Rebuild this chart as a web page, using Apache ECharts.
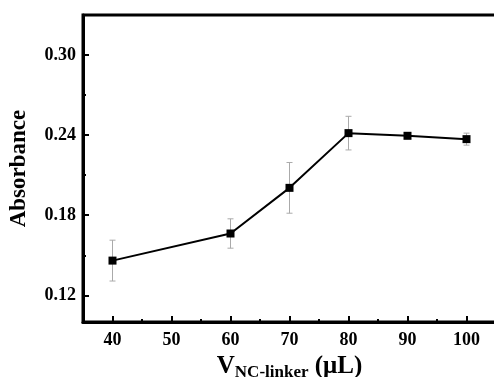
<!DOCTYPE html>
<html><head><meta charset="utf-8">
<script src="https://cdn.jsdelivr.net/npm/echarts@6/dist/echarts.min.js"></script>
<style>html,body{margin:0;padding:0;background:#fff}#c{width:494px;height:377px}</style>
</head><body><div id="c"></div>
<script>
const xValues = [40, 60, 70, 80, 90, 100];
const absorbance = [0.146, 0.1663, 0.2005, 0.2415, 0.2395, 0.237];
const errors = [0.0153, 0.011, 0.019, 0.0126, 0.0012, 0.0045];
const xMajorTicks = [40, 50, 60, 70, 80, 90, 100];
const xMinorTicks = [45, 55, 65, 75, 85, 95];
const yMajorTicks = [0.12, 0.18, 0.24, 0.30];
const yMinorTicks = [0.15, 0.21, 0.27];

const font = '"Liberation Serif","Times New Roman",serif';
const chart = echarts.init(document.getElementById('c'), null, {renderer: 'canvas'});
const xBase = {type: 'value', min: 35, max: 105, gridIndex: 0, position: 'bottom', splitLine: {show: false}};
const yBase = {type: 'value', min: 0.10, max: 0.33, gridIndex: 0, position: 'left', splitLine: {show: false}};
chart.setOption({
  animation: false,
  grid: {left: 83, top: 15, width: 413, height: 307, containLabel: false, outerBoundsMode: 'none',
    show: true, borderWidth: 3, borderColor: '#000', backgroundColor: 'transparent'},
  xAxis: [
    Object.assign({}, xBase, {
      axisLine: {lineStyle: {color: '#000', width: 3}},
      axisTick: {inside: true, length: 6, lineStyle: {width: 2, color: '#000'}, customValues: xMajorTicks},
      axisLabel: {customValues: xMajorTicks, color: '#000', fontFamily: font, fontWeight: 'bold', fontSize: 18, margin: 9},
      name: '{v|V}{s|NC-linker}{n| (μL)}',
      nameLocation: 'middle', nameGap: 28,
      nameTextStyle: {rich: {
        v: {fontFamily: font, fontWeight: 'bold', fontSize: 25, color: '#000'},
        s: {fontFamily: font, fontWeight: 'bold', fontSize: 17, color: '#000', verticalAlign: 'bottom', padding: [12, 0, 0, 0]},
        n: {fontFamily: font, fontWeight: 'bold', fontSize: 25, color: '#000'}
      }}
    }),
    Object.assign({}, xBase, {
      axisLine: {show: false},
      axisTick: {inside: true, length: 3, lineStyle: {width: 2, color: '#000'}, customValues: xMinorTicks},
      axisLabel: {show: false}
    })
  ],
  yAxis: [
    Object.assign({}, yBase, {
      axisLine: {lineStyle: {color: '#000', width: 3}},
      axisTick: {inside: true, length: 6, lineStyle: {width: 2, color: '#000'}, customValues: yMajorTicks},
      axisLabel: {customValues: yMajorTicks, color: '#000', fontFamily: font, fontWeight: 'bold', fontSize: 18, margin: 7,
        formatter: v => v.toFixed(2)},
      name: 'Absorbance', nameLocation: 'middle', nameGap: 52, nameRotate: 90,
      nameTextStyle: {fontFamily: font, fontWeight: 'bold', fontSize: 23, color: '#000'}
    }),
    Object.assign({}, yBase, {
      axisLine: {show: false},
      axisTick: {inside: true, length: 3, lineStyle: {width: 2, color: '#000'}, customValues: yMinorTicks},
      axisLabel: {show: false}
    })
  ],
  series: [
    {
      type: 'custom', xAxisIndex: 0, yAxisIndex: 0, z: 1,
      data: xValues.map((x, i) => [x, absorbance[i] - errors[i], absorbance[i] + errors[i]]),
      renderItem: (params, api) => {
        const lo = api.coord([api.value(0), api.value(1)]);
        const hi = api.coord([api.value(0), api.value(2)]);
        const w = 3;
        const st = {stroke: '#aaa', lineWidth: 1};
        return {type: 'group', children: [
          {type: 'line', shape: {x1: lo[0], y1: lo[1], x2: hi[0], y2: hi[1]}, style: st},
          {type: 'line', shape: {x1: lo[0] - w, y1: lo[1], x2: lo[0] + w, y2: lo[1]}, style: st},
          {type: 'line', shape: {x1: hi[0] - w, y1: hi[1], x2: hi[0] + w, y2: hi[1]}, style: st}
        ]};
      }
    },
    {
      type: 'line', xAxisIndex: 0, yAxisIndex: 0, z: 3,
      data: xValues.map((x, i) => [x, absorbance[i]]),
      symbol: 'rect', symbolSize: 8,
      lineStyle: {color: '#000', width: 2},
      itemStyle: {color: '#000'}
    }
  ]
});
</script></body></html>
